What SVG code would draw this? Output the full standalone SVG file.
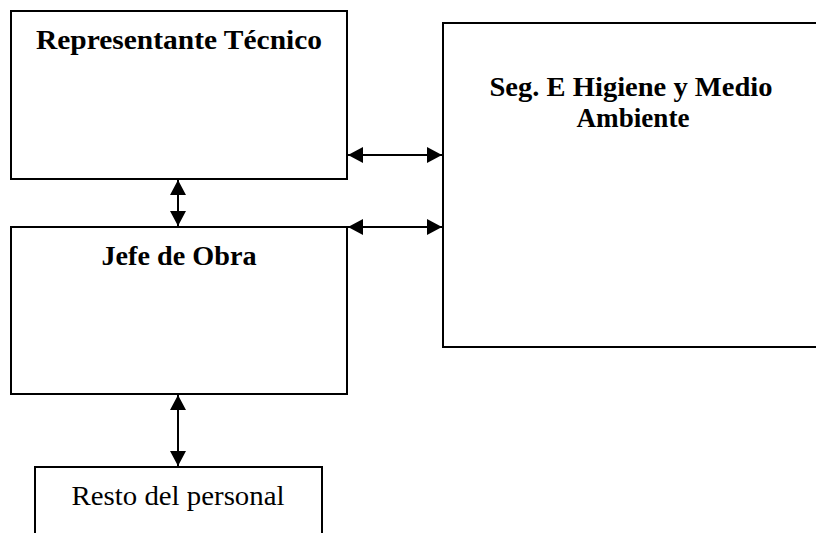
<svg xmlns="http://www.w3.org/2000/svg" width="816" height="533" viewBox="0 0 816 533">
<style>
.box{fill:#fff;stroke:#000;stroke-width:2}
.t{font-family:"Liberation Serif","Times New Roman",serif;font-size:28px;fill:#000;text-anchor:middle}
.b{font-weight:bold}
.c{stroke:#000;stroke-width:2;fill:none;marker-start:url(#ah);marker-end:url(#ah)}
</style>
<defs>
<marker id="ah" viewBox="0 0 15 16" refX="15" refY="8" markerWidth="15" markerHeight="16" markerUnits="userSpaceOnUse" orient="auto-start-reverse">
<path d="M0,0 L15,8 L0,16 z" fill="#000"/>
</marker>
</defs>
<rect width="816" height="533" fill="#fff"/>
<g id="rep">
<rect class="box" x="11" y="11" width="336" height="168"/>
<text class="t b" x="179" y="49" textLength="286" lengthAdjust="spacingAndGlyphs">Representante Técnico</text>
</g>
<g id="jefe">
<rect class="box" x="11" y="227" width="336" height="167"/>
<text class="t b" x="179" y="265" textLength="155" lengthAdjust="spacingAndGlyphs">Jefe de Obra</text>
</g>
<g id="seg">
<rect class="box" x="443" y="23" width="380" height="324"/>
<text class="t b" x="631" y="96" textLength="283" lengthAdjust="spacingAndGlyphs">Seg. E Higiene y Medio</text>
<text class="t b" x="633" y="127" textLength="113" lengthAdjust="spacingAndGlyphs">Ambiente</text>
</g>
<g id="resto">
<rect class="box" x="35" y="467" width="287" height="80"/>
<text class="t" x="178" y="505" textLength="213" lengthAdjust="spacingAndGlyphs">Resto del personal</text>
</g>
<g id="connectors">
<line class="c" x1="178" y1="180" x2="178" y2="226"/>
<line class="c" x1="178" y1="395" x2="178" y2="466"/>
<line class="c" x1="348" y1="155" x2="442" y2="155"/>
<line class="c" x1="348" y1="227" x2="442" y2="227"/>
</g>
</svg>
